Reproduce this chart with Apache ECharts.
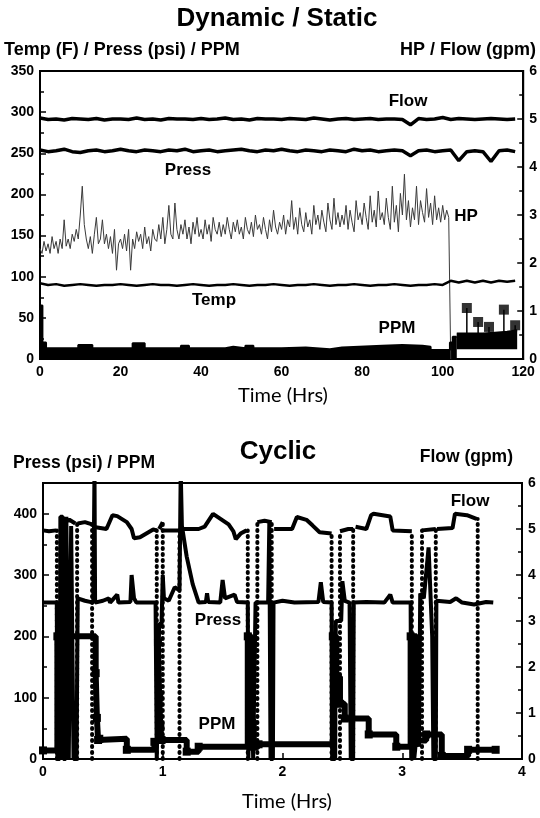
<!DOCTYPE html>
<html><head><meta charset="utf-8">
<script src="https://cdn.jsdelivr.net/npm/echarts/dist/echarts.min.js"></script>
<style>html,body{margin:0;padding:0;background:#fff}#c{width:540px;height:818px}</style>
</head><body><div id="c"></div>
<script>
// ---------- Top chart: Dynamic / Static ----------
const topTime = [0,2,4,6,8,10,12,14,16,18,20,22,24,26,28,30,32,34,36,38,40,42,44,46,48,50,52,54,56,58,60,62,64,66,68,70,72,74,76,78,80,82,84,86,88,90,92,94,96,98,100,102,104,106,108,110,112,114,116,118];
const flowTop = [5.02,4.99,5.0,4.98,5.01,5.0,4.99,5.01,4.98,5.0,5.0,4.99,5.02,4.99,5.0,4.98,5.01,5.0,5.0,4.99,5.01,4.99,5.0,5.02,4.99,5.0,4.98,5.01,5.0,5.0,4.99,5.01,5.0,4.99,5.02,5.0,4.98,5.0,5.01,4.99,5.0,5.01,4.99,5.0,5.0,4.99,4.88,5.01,4.99,5.0,5.03,4.99,5.01,5.0,4.99,5.0,5.01,5.0,4.99,5.0];
const pressTop = [254,252,253,255,252,251,253,254,252,253,255,253,252,254,253,252,254,253,255,252,253,254,252,253,254,255,253,252,254,253,255,253,252,254,253,252,254,253,252,255,253,254,252,253,254,253,247,253,254,252,253,254,241,252,253,252,240,253,254,252];
const tempTop = [92,90,91,89,90,91,90,89,90,90,91,90,89,90,91,90,90,89,90,91,90,89,90,90,91,90,89,90,90,91,90,89,90,90,91,90,89,90,90,91,90,89,90,90,91,90,89,90,90,91,90,95,93,95,93,95,93,95,94,95];
const hpStep = 0.5;
const hpVal = [
2.3,2.2,2.45,2.25,2.4,2.2,2.55,2.3,2.45,2.2,
2.5,2.3,2.9,2.35,2.5,2.3,2.6,2.45,2.7,2.5,
3.0,3.6,2.8,2.5,2.3,2.55,2.2,2.6,2.95,2.4,
2.5,2.9,2.4,2.6,2.3,2.55,2.2,2.7,1.85,2.4,
2.5,2.3,2.6,2.25,2.7,1.85,2.5,2.3,2.65,2.45,
2.6,2.3,2.75,2.4,2.55,2.25,2.7,2.5,2.45,2.8,
2.5,2.95,2.4,2.7,3.2,2.6,2.5,3.25,2.7,2.5,
2.8,2.6,2.9,2.5,2.75,2.4,2.85,2.6,2.95,2.55,
2.7,2.5,2.9,2.6,2.8,2.45,2.95,2.7,2.6,2.85,
2.55,2.8,2.6,2.95,2.7,2.5,2.85,2.65,2.9,2.6,
2.75,2.5,2.95,2.7,2.6,2.85,2.55,3.0,2.7,2.8,
2.6,2.95,2.7,2.5,2.9,2.65,3.1,2.75,2.6,2.85,
2.7,3.0,2.6,2.9,2.75,3.3,2.7,2.95,2.6,3.15,
2.8,2.65,3.05,2.75,2.9,2.6,3.2,2.8,3.0,2.7,
3.1,2.85,2.65,3.25,2.9,2.7,3.35,2.8,3.05,2.75,
3.0,2.8,3.2,2.7,3.1,2.85,2.65,3.3,2.9,3.05,
2.8,3.25,2.95,2.7,3.4,2.85,3.1,2.75,3.5,2.9,
3.05,2.8,3.35,2.95,2.7,3.6,2.85,3.2,2.65,3.45,
3.0,3.85,2.9,3.3,2.75,3.15,2.9,3.6,2.8,3.3,
3.05,2.85,3.55,2.95,3.25,2.8,3.4,2.9,3.15,2.85,
3.2,2.9,3.1,2.95,0];
const ppmTopTime = [0,0.6,1.5,9.5,13,23,26,35,37,46,48,51,53,60,66,72,75,85,90,95,97,101.8,102.5,103.5];
const ppmTopVal  = [65,20,13,17,13,19,13,16,13,15,13,16,13,14,12,14,16,17,16,15,11,20,27,27];
const ppmLateTime = [103.5,107,110,113,116,118.5];
const ppmLateVal  = [31,31,32,33,35,35];
const ppmLateFloor = 12;
const ppmPeakTime = [106,108.8,111.5,115.2,118];
const ppmPeakVal  = [62,45,39,60,41];

// ---------- Bottom chart: Cyclic ----------
const flowCycTime = [0,0.05,0.11,0.12,0.17,0.22,0.27,0.28,0.29,0.35,0.41,0.42,0.44,0.53,0.58,0.62,0.7,0.74,0.76,0.81,0.92,0.95,0.96,0.97,1.0,1.005,1.01,1.14,1.145,1.15,1.3,1.35,1.42,1.55,1.59,1.61,1.65,1.7,1.75,1.79,1.85,1.91,1.92,1.93,2.08,2.12,2.2,2.25,2.31,2.41,2.45,2.48,2.55,2.59,2.6,2.61,2.7,2.74,2.76,2.9,2.92,3.08,3.12,3.165,3.28,3.285,3.29,3.42,3.44,3.54,3.62];
const flowCycVal  = [4.97,4.95,4.97,null,5.15,5.2,5.12,null,5.12,5.15,5.1,null,5.04,5.0,5.3,5.28,5.15,5.0,4.8,4.82,4.99,4.97,null,5.0,5.15,null,4.97,4.97,null,5.0,5.0,5.05,5.33,5.1,4.95,4.78,4.9,4.97,null,5.15,5.18,5.15,null,5.0,5.0,5.26,5.2,5.08,4.93,4.9,null,4.95,5.0,5.0,null,5.05,5.0,5.3,5.33,5.27,4.97,4.95,null,4.97,5.0,null,5.0,5.02,5.33,5.3,5.22];
const flowDropTime = [0.116,0.285,0.41,0.95,1.0,1.14,1.71,1.79,1.91,2.41,2.48,2.59,3.08,3.165,3.28,3.63];
const flowDropTop  = [4.97,5.15,5.1,4.97,5.15,4.97,4.97,5.15,5.15,4.9,4.95,5.0,4.95,4.97,5.0,5.22];
const pressCycTime = [0,0.115,0.12,0.14,0.145,0.165,0.17,0.19,0.195,0.21,0.215,0.23,0.235,0.25,0.255,0.28,0.29,0.35,0.42,0.43,0.435,0.45,0.5,0.55,0.56,0.62,0.63,0.73,0.74,0.76,0.78,0.94,0.95,0.965,0.97,0.99,1.0,1.01,1.05,1.1,1.14,1.15,1.16,1.2,1.25,1.3,1.36,1.37,1.38,1.48,1.5,1.52,1.6,1.62,1.71,1.715,1.73,1.735,1.75,1.755,1.77,1.775,1.88,1.89,1.9,1.92,1.925,2.0,2.1,2.3,2.32,2.34,2.41,2.415,2.44,2.445,2.49,2.5,2.52,2.56,2.57,2.59,2.595,2.7,2.85,2.9,2.92,3.07,3.075,3.09,3.095,3.1,3.12,3.14,3.15,3.18,3.22,3.25,3.26,3.28,3.285,3.4,3.45,3.5,3.6,3.7,3.76];
const pressCycVal  = [255,255,0,0,395,395,0,0,395,395,0,0,380,380,0,0,262,258,255,470,255,255,258,262,255,268,255,256,300,262,255,255,0,0,220,220,300,262,258,280,275,470,380,330,285,255,256,270,256,255,292,262,268,256,255,0,0,200,200,0,0,255,255,385,0,0,255,258,255,256,288,256,255,0,0,225,225,290,258,255,0,0,255,256,255,268,255,255,0,0,140,0,40,20,270,262,345,200,0,0,258,256,262,255,252,256,255];
const ppmCycTime = [0,0.12,0.2,0.44,0.45,0.46,0.47,0.7,0.93,0.96,0.97,0.98,0.99,1.2,1.3,1.71,1.74,1.76,1.8,2.42,2.45,2.48,2.52,2.72,2.95,3.07,3.12,3.2,3.33,3.55,3.78];
const ppmCycVal  = [14,200,200,140,67,31,33,15,28,190,100,52,31,12,20,200,63,20,24,200,134,90,66,40,20,200,30,40,5,15,15];

// ---------- Build ----------
const FONT = '"Liberation Sans", Arial, Helvetica, sans-serif';
const black = '#000';
function xAx(gi, max, interval){
  return {type:'value', gridIndex:gi, min:0, max:max, interval:interval,
    axisLine:{show:true,onZero:false,lineStyle:{color:black,width:2}},
    axisTick:{show:true,inside:true,length:6,lineStyle:{color:black,width:1.5}},
    splitLine:{show:false},
    axisLabel:{color:black,fontFamily:FONT,fontWeight:'bold',fontSize:14,margin:6}};
}
function yAx(gi, max, interval, pos, fmt, minorSplit){
  return {type:'value', gridIndex:gi, position:pos, min:0, max:max, interval:interval,
    axisLine:{show:true,onZero:false,lineStyle:{color:black,width:2}},
    axisTick:{show:true,inside:true,length:6,lineStyle:{color:black,width:1.5}},
    minorTick:{show:true,splitNumber:minorSplit,length:4,lineStyle:{color:black,width:1.5}},
    splitLine:{show:false}, minorSplitLine:{show:false},
    axisLabel:{color:black,fontFamily:FONT,fontWeight:'bold',fontSize:14,margin:6,formatter:fmt}};
}
const pairs = (ts, vs) => ts.map((t,i)=> (vs[i]===null||vs[i]===undefined) ? [t,'-'] : [t, vs[i]]);
const hpData = hpVal.map((v,i)=>[i*hpStep, v]);
function stepValueAt(times, vals, t){
  let v = vals[0];
  for (let i=0;i<times.length;i++){ if (times[i] <= t) v = vals[i]; }
  return v;
}
const stemData = [];
ppmPeakTime.forEach((t,i)=>{
  stemData.push([t, stepValueAt(ppmLateTime, ppmLateVal, t)]);
  stemData.push([t, ppmPeakVal[i]]);
  stemData.push([t, '-']);
});
const dropData = [];
flowDropTime.forEach((t,i)=>{ dropData.push([t,0]); dropData.push([t,flowDropTop[i]]); dropData.push([t,'-']); });

const lineBase = {type:'line', showSymbol:false, symbol:'none', animation:false, silent:true, connectNulls:false};

function txt(x, y, text, size, align, weight, family){
  return {type:'text', x:x, y:y, z:100, style:{text:text, fill:black, textAlign:align||'center', textVerticalAlign:'middle',
    font:(weight||'bold')+' '+size+'px '+(family||FONT)}};
}

const option = {
  backgroundColor:'#fff',
  animation:false,
  grid:[
    {left:40, right:16, top:71, height:288, show:true, borderColor:black, borderWidth:2, backgroundColor:'transparent'},
    {left:43, right:18, top:483, height:276, show:true, borderColor:black, borderWidth:2, backgroundColor:'transparent'}
  ],
  xAxis:[ xAx(0,120,20), xAx(1,4,1) ],
  yAxis:[
    yAx(0,350,50,'left',null,2),
    yAx(0,6,1,'right',null,2),
    yAx(1,450,100,'left',(v)=> (v%100===0 ? String(v) : ''),2),
    yAx(1,6,1,'right',null,2)
  ],
  series:[
    // top
    Object.assign({}, lineBase, {name:'HP', xAxisIndex:0, yAxisIndex:1, data:hpData, lineStyle:{color:'#3a3a3a',width:1}}),
    Object.assign({}, lineBase, {name:'PPM', xAxisIndex:0, yAxisIndex:0, step:'end', data:pairs(ppmTopTime, ppmTopVal), lineStyle:{color:black,width:2}, areaStyle:{color:black,opacity:1,origin:'start'}}),
    Object.assign({}, lineBase, {name:'PPM late', xAxisIndex:0, yAxisIndex:0, step:'end', data:pairs(ppmLateTime, ppmLateVal), lineStyle:{color:black,width:2}, areaStyle:{color:black,opacity:1,origin:ppmLateFloor}}),
    Object.assign({}, lineBase, {name:'PPM stems', xAxisIndex:0, yAxisIndex:0, data:stemData, lineStyle:{color:black,width:1.5}}),
    {type:'scatter', name:'PPM peaks', xAxisIndex:0, yAxisIndex:0, symbol:'rect', symbolSize:10, itemStyle:{color:black}, data:pairs(ppmPeakTime, ppmPeakVal), animation:false, silent:true},
    Object.assign({}, lineBase, {name:'Temp', xAxisIndex:0, yAxisIndex:0, data:pairs(topTime, tempTop), lineStyle:{color:black,width:2.5}}),
    Object.assign({}, lineBase, {name:'Press', xAxisIndex:0, yAxisIndex:0, data:pairs(topTime, pressTop), lineStyle:{color:black,width:3.5}}),
    Object.assign({}, lineBase, {name:'Flow', xAxisIndex:0, yAxisIndex:1, data:pairs(topTime, flowTop), lineStyle:{color:black,width:3.5}}),
    // bottom
    Object.assign({}, lineBase, {name:'PPM cyc', xAxisIndex:1, yAxisIndex:2, step:'end', data:pairs(ppmCycTime, ppmCycVal), showSymbol:true, symbol:'rect', symbolSize:8, itemStyle:{color:black}, lineStyle:{color:black,width:6}}),
    Object.assign({}, lineBase, {name:'Press cyc', xAxisIndex:1, yAxisIndex:2, data:pairs(pressCycTime, pressCycVal), lineStyle:{color:black,width:4}}),
    Object.assign({}, lineBase, {name:'Flow drops', xAxisIndex:1, yAxisIndex:3, data:dropData, lineStyle:{color:black,width:4,type:[1,5],cap:'round'}}),
    Object.assign({}, lineBase, {name:'Flow cyc', xAxisIndex:1, yAxisIndex:3, data:pairs(flowCycTime, flowCycVal), lineStyle:{color:black,width:4}})
  ],
  graphic:[
    txt(277, 19, 'Dynamic / Static', 26),
    txt(4, 50, 'Temp (F) / Press (psi) / PPM', 18, 'left'),
    txt(536, 50, 'HP / Flow (gpm)', 18, 'right'),
    txt(283, 396, 'Time (Hrs)', 20, 'center', 'normal', 'Lato, "Open Sans", sans-serif'),
    txt(408, 101, 'Flow', 17),
    txt(188, 170, 'Press', 17),
    txt(466, 216, 'HP', 17),
    txt(214, 300, 'Temp', 17),
    txt(397, 328, 'PPM', 17),
    txt(278, 452, 'Cyclic', 26),
    txt(13, 463, 'Press (psi) / PPM', 17.5, 'left'),
    txt(513, 457, 'Flow (gpm)', 17.5, 'right'),
    txt(287, 802, 'Time (Hrs)', 20, 'center', 'normal', 'Lato, "Open Sans", sans-serif'),
    txt(470, 501, 'Flow', 17),
    txt(218, 620, 'Press', 17),
    txt(217, 724, 'PPM', 17)
  ]
};
const chart = echarts.init(document.getElementById('c'), null, {renderer:'canvas'});
chart.setOption(option);
</script></body></html>
